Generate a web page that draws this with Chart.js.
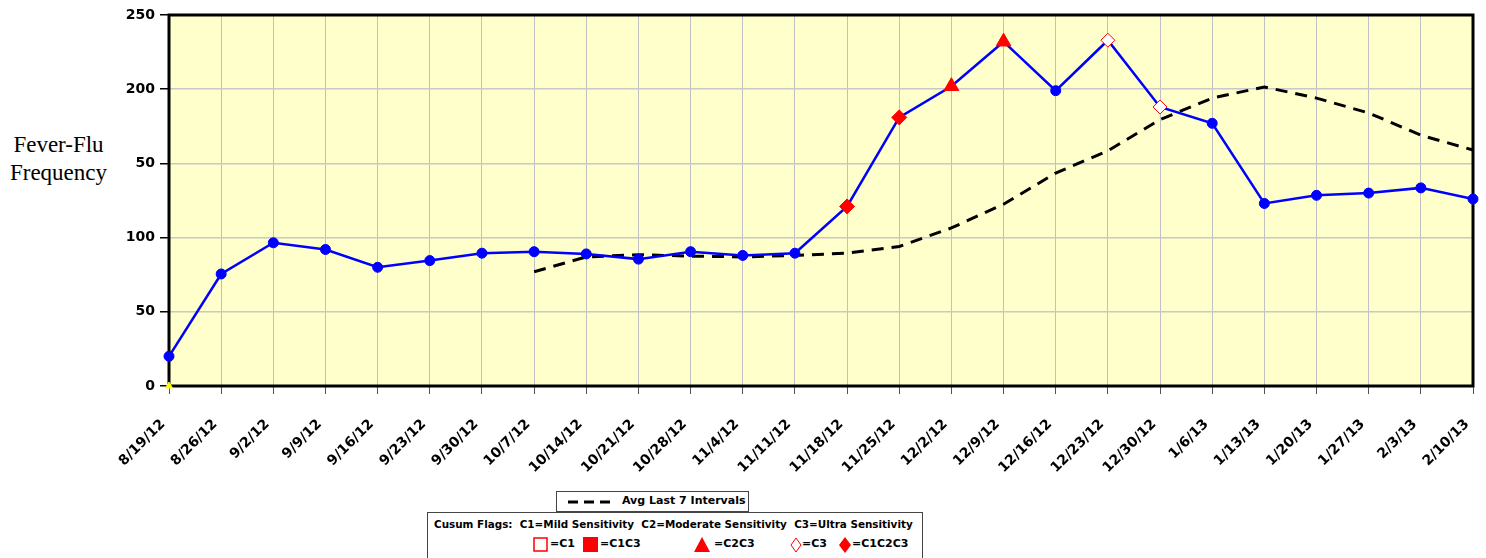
<!DOCTYPE html>
<html>
<head>
<meta charset="utf-8">
<script src="https://cdn.jsdelivr.net/npm/chart.js@4/dist/chart.umd.min.js"></script>
<style>
  body { margin: 0; background: #fff; font-family: "DejaVu Sans", sans-serif; }
  #wrap { position: relative; width: 1486px; height: 558px; }
  #titulo { position: absolute; left: 0; top: 131px; width: 135px; height: 64px; background: #fff;
    font-family: "Liberation Serif", "Times New Roman", serif; font-size: 23px; line-height: 28px; }
  #titulo span { display: block; width: 117px; text-align: center; }
  .caja { position: absolute; border: 1px solid #444; background: #fff; font-weight: bold; font-size: 11px; color: #000; }
  #leyenda1 { left: 556px; top: 491px; width: 191px; height: 19px; }
  #leyenda2 { left: 427px; top: 512px; width: 494px; height: 50px; }
  .fila { position: absolute; white-space: nowrap; }
  .sim { position: absolute; top: 0; }
</style>
</head>
<body>
<div id="wrap">
  <canvas id="myChart" width="1486" height="558"></canvas>
  <div id="titulo"><span>Fever-Flu</span><span>Frequency</span></div>
  <div class="caja" id="leyenda1">
    <svg style="position:absolute;left:11px;top:8px" width="44" height="4"><line x1="0" y1="2" x2="44" y2="2" stroke="#000" stroke-width="3" stroke-dasharray="10,6"/></svg>
    <span class="fila" style="left:65px;top:2px">Avg Last 7 Intervals</span>
  </div>
  <div class="caja" id="leyenda2">
    <span class="fila" style="left:6px;top:5px;font-size:10.4px">Cusum Flags:&nbsp; C1=Mild Sensitivity&nbsp; C2=Moderate Sensitivity&nbsp; C3=Ultra Sensitivity</span>
    <div class="fila" style="left:0;top:24px;width:494px;height:18px">
      <svg class="sim" style="left:105px" width="15" height="15"><rect x="1" y="1" width="13" height="13" fill="#fff" stroke="#f00" stroke-width="1.5"/></svg>
      <span class="fila" style="left:122px;top:0px">=C1</span>
      <svg class="sim" style="left:155px" width="15" height="15"><rect x="0" y="0" width="15" height="15" fill="#f00"/></svg>
      <span class="fila" style="left:172px;top:0px">=C1C3</span>
      <svg class="sim" style="left:266px" width="16" height="15"><polygon points="8,0 16,15 0,15" fill="#f00"/></svg>
      <span class="fila" style="left:286px;top:0px">=C2C3</span>
      <svg class="sim" style="left:362px" width="12" height="16"><polygon points="6,1 11,8 6,15 1,8" fill="#fff" stroke="#f00" stroke-width="1"/></svg>
      <span class="fila" style="left:374px;top:0px">=C3</span>
      <svg class="sim" style="left:411px" width="12" height="16"><polygon points="6,0 12,8 6,16 0,8" fill="#f00"/></svg>
      <span class="fila" style="left:424px;top:0px">=C1C2C3</span>
    </div>
  </div>
</div>
<script>
//fechas semanales del eje x
const semanas = ['8/19/12', '8/26/12', '9/2/12', '9/9/12', '9/16/12', '9/23/12', '9/30/12', '10/7/12',
    '10/14/12', '10/21/12', '10/28/12', '11/4/12', '11/11/12', '11/18/12', '11/25/12', '12/2/12',
    '12/9/12', '12/16/12', '12/23/12', '12/30/12', '1/6/13', '1/13/13', '1/20/13', '1/27/13', '2/3/13', '2/10/13']

//conteos semanales de fiebre-gripe
const conteos = [20, 75.5, 96.5, 92, 80, 84.5, 89.5, 90.5, 89, 85.5, 90.5, 88, 89.5, 121,
    181, 202, 232, 199, 233, 188, 177, 123, 128.5, 130, 133.5, 126]

//promedio de los ultimos 7 intervalos (empieza en 10/7/12)
const promedio = [null, null, null, null, null, null, null, 77, 87, 88.5, 87.5, 87, 88, 89.5,
    94, 106.5, 122.5, 143.5, 158.5, 179.5, 194, 201.5, 194, 184, 169, 159]

//banderas cusum por semana
const banderas = ['', '', '', '', '', '', '', '', '', '', '', '', '', 'C1C2C3',
    'C1C2C3', 'C2C3', 'C2C3', '', 'C3', 'C3', '', '', '', '', '', '']

//marca amarilla en la base (primer semana)
const base = [0, null, null, null, null, null, null, null, null, null, null, null, null, null,
    null, null, null, null, null, null, null, null, null, null, null, null]

const yTicks = [0, 50, 100, 150, 200, 250]

//estilos de los puntos segun la bandera
const estilos = {
    '': { s: 'circle', r: 5, f: '#0000ff', b: '#0000ff' },
    'C1': { s: 'rect', r: 8, f: '#ffffff', b: '#ff0000' },
    'C1C3': { s: 'rect', r: 8, f: '#ff0000', b: '#ff0000' },
    'C2C3': { s: 'triangle', r: 8.5, f: '#ff0000', b: '#ff0000' },
    'C3': { s: 'rectRot', r: 7, f: '#ffffff', b: '#ff0000' },
    'C1C2C3': { s: 'rectRot', r: 7.5, f: '#ff0000', b: '#ff0000' }
}

//fondo amarillo y borde negro del area del grafico
const fondoPlugin = {
    id: 'fondo',
    beforeDraw(chart) {
        const a = chart.chartArea
        const ctx = chart.ctx
        ctx.save()
        ctx.fillStyle = '#ffffcc'
        ctx.fillRect(a.left, a.top, a.right - a.left, a.bottom - a.top)
        ctx.restore()
    },
    beforeDatasetsDraw(chart) {
        const a = chart.chartArea
        const ctx = chart.ctx
        ctx.save()
        ctx.strokeStyle = '#000'
        ctx.lineWidth = 3
        ctx.strokeRect(a.left, a.top, a.right - a.left, a.bottom - a.top)
        ctx.restore()
    }
}

const ctx = document.getElementById('myChart').getContext('2d')
let chart = new Chart(ctx, {
    type: 'line',
    data: {
        labels: semanas,
        datasets: [{
            label: 'Fever-Flu',
            data: conteos,
            order: 0,
            borderColor: '#0000ff',
            borderWidth: 2.5,
            pointStyle: banderas.map(b => estilos[b].s),
            pointRadius: banderas.map(b => estilos[b].r),
            pointBackgroundColor: banderas.map(b => estilos[b].f),
            pointBorderColor: banderas.map(b => estilos[b].b),
            pointBorderWidth: 1,
            tension: 0,
            clip: false
        },
        {
            label: 'Avg Last 7 Intervals',
            data: promedio,
            order: 1,
            borderColor: '#000000',
            borderWidth: 3,
            borderDash: [12, 8],
            pointRadius: 0,
            tension: 0,
            clip: false
        },
        {
            label: 'base',
            data: base,
            order: 2,
            showLine: false,
            pointStyle: 'triangle',
            pointRadius: 4,
            pointBackgroundColor: '#ffff00',
            pointBorderColor: '#ffff00',
            clip: false
        }]
    },
    options: {
        responsive: false,
        animation: false,
        layout: { padding: { left: 0, top: 15, right: 0, bottom: 0 } },
        plugins: {
            legend: { display: false },
            tooltip: { enabled: false }
        },
        scales: {
            x: {
                offset: false,
                grid: { color: '#c0c0c0', lineWidth: 1, drawTicks: true, tickLength: 8, tickColor: '#555' },
                border: { display: false },
                ticks: {
                    autoSkip: false, minRotation: 45, maxRotation: 45, padding: 22, labelOffset: -6,
                    color: '#000', font: { family: 'DejaVu Sans', weight: 'bold', size: 14 }
                },
                afterFit: (s) => {
                    s.height = 172
                    s.paddingRight = 13
                }
            },
            y: {
                min: 0, max: 250,
                afterBuildTicks: (s) => { s.ticks = yTicks.map(v => ({ value: v })) },
                grid: { color: '#c8c8c8', lineWidth: 1.5, drawTicks: true, tickLength: 9, tickColor: '#000' },
                border: { display: false },
                ticks: {
                    padding: 5, color: '#000',
                    font: { family: 'DejaVu Sans', weight: 'bold', size: 14 }
                },
                afterFit: (s) => { s.width = 169 }
            }
        }
    },
    plugins: [fondoPlugin]
})
</script>
</body>
</html>
